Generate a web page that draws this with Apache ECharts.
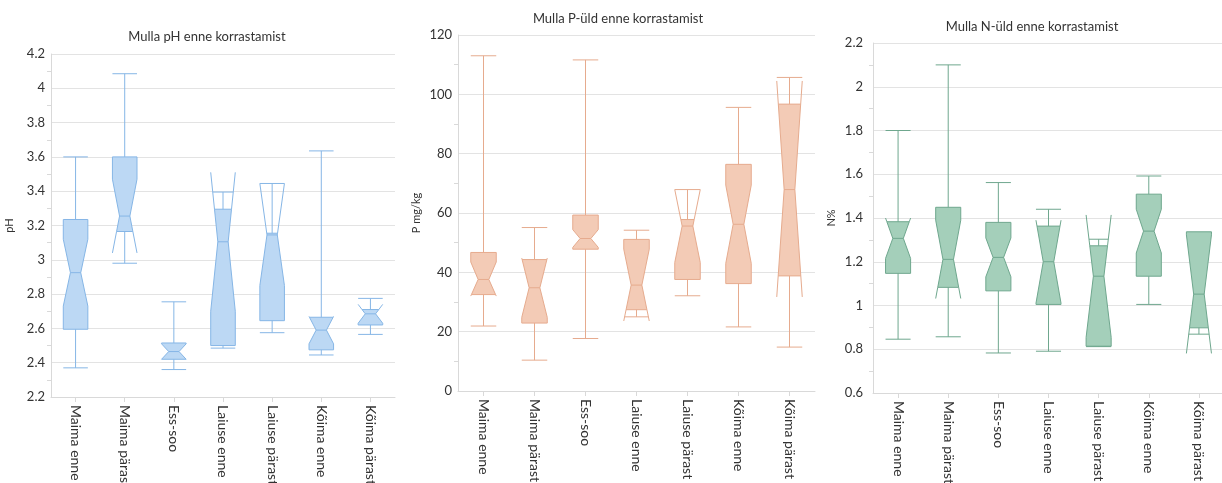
<!DOCTYPE html>
<html>
<head>
<meta charset="utf-8">
<script src="https://cdn.jsdelivr.net/npm/echarts@6/dist/echarts.min.js"></script>
<style>
  html, body { margin: 0; padding: 0; background: #fff; }
  #main { width: 1222px; height: 483px; }
</style>
</head>
<body>
<div id="main"></div>
<script>
// kohad
var categories = ['Maima enne', 'Maima pärast', 'Ess-soo', 'Laiuse enne', 'Laiuse pärast', 'Kõima enne', 'Kõima pärast'];

// pH
var phMin     = [2.37, 2.98, 2.36, 2.485, 2.575, 2.445, 2.565];
var phQ1      = [2.595, 3.165, 2.42, 2.50, 2.645, 2.475, 2.62];
var phMedian  = [2.925, 3.255, 2.465, 3.105, 3.145, 2.59, 2.685];
var phQ3      = [3.235, 3.60, 2.515, 3.295, 3.155, 2.665, 2.71];
var phMax     = [3.60, 4.085, 2.755, 3.395, 3.445, 3.635, 2.775];
var phNotchLo = [2.73, 3.04, 2.42, 2.70, 2.85, 2.51, 2.63];
var phNotchHi = [3.12, 3.47, 2.51, 3.51, 3.445, 2.67, 2.74];

// P mg/kg
var pMin     = [21.9, 10.4, 17.7, 25.0, 32.1, 21.6, 14.8];
var pQ1      = [32.5, 22.9, 47.8, 27.4, 37.6, 36.2, 38.8];
var pMedian  = [37.6, 34.8, 51.4, 35.7, 55.6, 56.2, 67.9];
var pQ3      = [46.7, 44.3, 59.3, 51.1, 57.8, 76.4, 96.7];
var pMax     = [113, 55.1, 111.6, 54.2, 67.9, 95.6, 105.7];
var pNotchLo = [32.0, 24.8, 48.4, 23.6, 43.3, 43.0, 31.7];
var pNotchHi = [43.5, 44.8, 54.4, 47.8, 67.9, 69.4, 104.5];

// N %
var nMin     = [0.846, 0.857, 0.783, 0.791, 0.812, 1.005, 0.869];
var nQ1      = [1.147, 1.083, 1.067, 1.005, 0.814, 1.134, 0.898];
var nMedian  = [1.307, 1.211, 1.22, 1.20, 1.134, 1.34, 1.052];
var nQ3      = [1.383, 1.449, 1.38, 1.363, 1.273, 1.509, 1.337];
var nMax     = [1.80, 2.10, 1.562, 1.44, 1.303, 1.592, 1.337];
var nNotchLo = [1.215, 1.032, 1.131, 1.01, 0.854, 1.24, 0.781];
var nNotchHi = [1.40, 1.39, 1.309, 1.39, 1.414, 1.44, 1.323];

function rows(mn, q1, md, q3, mx, lo, hi) {
  var out = [];
  for (var i = 0; i < categories.length; i++) {
    out.push([i, mn[i], q1[i], md[i], q3[i], mx[i], lo[i], hi[i]]);
  }
  return out;
}

// notched box, drawn like the original (notch sides continue outside the box)
function notchBox(fill, stroke) {
  return function (params, api) {
    var i = api.value(0);
    var mn = api.value(1), q1 = api.value(2), md = api.value(3), q3 = api.value(4);
    var mx = api.value(5), lo = api.value(6), hi = api.value(7);
    var xc = api.coord([i, md])[0];
    var hw = api.size([1, 0])[0] * 0.25;
    var nw = hw * 0.42;
    function y(v) { return api.coord([i, v])[1]; }
    function half(v) {
      if (v >= hi || v <= lo) return hw;
      if (v >= md) return hi === md ? hw : nw + (hw - nw) * (v - md) / (hi - md);
      return md === lo ? hw : nw + (hw - nw) * (md - v) / (md - lo);
    }
    var levels = [q3, hi, md, lo, q1].filter(function (l) { return l <= q3 && l >= q1; })
      .sort(function (a, b) { return b - a; });
    var pts = levels.map(function (l) { return [xc + half(l), y(l)]; })
      .concat(levels.slice().reverse().map(function (l) { return [xc - half(l), y(l)]; }));
    var ls = { stroke: stroke, lineWidth: 1 };
    var kids = [{ type: 'polygon', shape: { points: pts }, style: { fill: fill, stroke: stroke, lineWidth: 1 } }];
    function line(x1, y1, x2, y2) {
      kids.push({ type: 'line', shape: { x1: x1, y1: y1, x2: x2, y2: y2 }, style: ls });
    }
    if (hi > q3) {
      line(xc - half(q3), y(q3), xc - hw, y(hi));
      line(xc + half(q3), y(q3), xc + hw, y(hi));
    }
    if (lo < q1) {
      line(xc - half(q1), y(q1), xc - hw, y(lo));
      line(xc + half(q1), y(q1), xc + hw, y(lo));
    }
    line(xc - half(md), y(md), xc + half(md), y(md));
    if (mx > q3) {
      var ch = (mx < hi) ? half(mx) : hw;
      line(xc, y(q3), xc, y(mx));
      line(xc - ch, y(mx), xc + ch, y(mx));
    }
    if (mn < q1) {
      var cl = (mn > lo) ? half(mn) : hw;
      line(xc, y(q1), xc, y(mn));
      line(xc - cl, y(mn), xc + cl, y(mn));
    }
    return { type: 'group', children: kids };
  };
}

var font = 'Lato';
function xAx(idx) {
  return {
    type: 'category', gridIndex: idx, data: categories,
    axisLine: { lineStyle: { color: '#d9d9d9' } },
    axisTick: { show: true, alignWithLabel: true, length: 5, lineStyle: { color: '#d9d9d9' } },
    axisLabel: { rotate: -90, color: '#333333', fontSize: 14, fontFamily: font, margin: 8, interval: 0 }
  };
}
function yAx(idx, min, max, step, name, margin) {
  return {
    type: 'value', gridIndex: idx, min: min, max: max, interval: step,
    name: name, nameLocation: 'middle', nameGap: 36,
    nameTextStyle: { color: '#333333', fontSize: 11, fontFamily: font },
    axisLine: { show: true, lineStyle: { color: '#d9d9d9' } },
    axisTick: { show: false },
    minorTick: { show: true, splitNumber: 2, length: 4, lineStyle: { color: '#d9d9d9' } },
    splitLine: { lineStyle: { color: '#e3e3e3' } },
    axisLabel: { color: '#333333', fontSize: 13, fontFamily: font, margin: margin }
  };
}

var chart = echarts.init(document.getElementById('main'));
chart.setOption({
  animation: false,
  backgroundColor: '#ffffff',
  title: [
    { text: 'Mulla pH enne korrastamist', left: 202, top: 25, textAlign: 'center',
      textStyle: { fontSize: 13, fontWeight: 'normal', color: '#333333', fontFamily: font } },
    { text: 'Mulla P-üld enne korrastamist', left: 613, top: 7, textAlign: 'center',
      textStyle: { fontSize: 13, fontWeight: 'normal', color: '#333333', fontFamily: font } },
    { text: 'Mulla N-üld enne korrastamist', left: 1027, top: 15, textAlign: 'center',
      textStyle: { fontSize: 13, fontWeight: 'normal', color: '#333333', fontFamily: font } }
  ],
  grid: [
    { left: 51, top: 54, width: 344, height: 343, outerBoundsMode: 'none' },
    { left: 458, top: 35, width: 357, height: 356, outerBoundsMode: 'none' },
    { left: 873, top: 43, width: 351, height: 350, outerBoundsMode: 'none' }
  ],
  xAxis: [xAx(0), xAx(1), xAx(2)],
  yAxis: [
    yAx(0, 2.2, 4.2, 0.2, 'pH', 6),
    yAx(1, 0, 120, 20, 'P mg/kg', 6),
    yAx(2, 0.6, 2.2, 0.2, 'N%', 10)
  ],
  series: [
    { type: 'custom', xAxisIndex: 0, yAxisIndex: 0, renderItem: notchBox('#bcd8f4', '#86b6e6'),
      encode: { x: 0, y: [1, 5] }, data: rows(phMin, phQ1, phMedian, phQ3, phMax, phNotchLo, phNotchHi) },
    { type: 'custom', xAxisIndex: 1, yAxisIndex: 1, renderItem: notchBox('#f3cbb6', '#e6ab8e'),
      encode: { x: 0, y: [1, 5] }, data: rows(pMin, pQ1, pMedian, pQ3, pMax, pNotchLo, pNotchHi) },
    { type: 'custom', xAxisIndex: 2, yAxisIndex: 2, renderItem: notchBox('#a4cfba', '#6fa78e'),
      encode: { x: 0, y: [1, 5] }, data: rows(nMin, nQ1, nMedian, nQ3, nMax, nNotchLo, nNotchHi) }
  ]
});
</script>
</body>
</html>
